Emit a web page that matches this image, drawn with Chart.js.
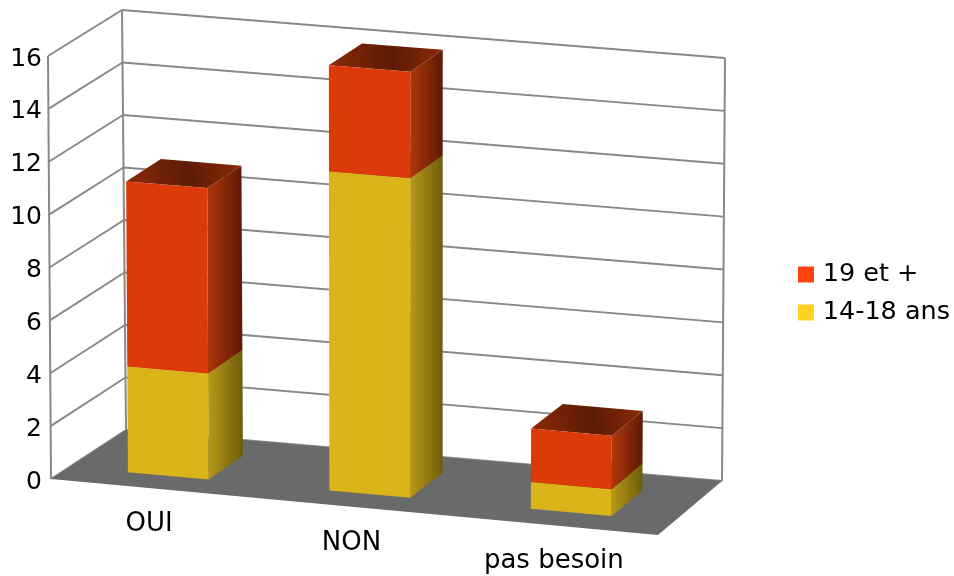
<!DOCTYPE html>
<html>
<head>
<meta charset="utf-8">
<title>Stacked 3D columns</title>
<style>
  html, body { margin: 0; padding: 0; background: #fff; }
  canvas { display: block; }
</style>
<script src="https://cdn.jsdelivr.net/npm/chart.js@4"></script>
</head>
<body>
<canvas id="chart" width="954" height="576"></canvas>
<script>
const categories = ['OUI', 'NON', 'pas besoin'];
const ans14to18 = [4, 12, 1];
const ans19plus = [7, 4, 2];
const yMax = 16;
const yStep = 2;

// corners of the 3D box: [x, y] for front/back, bottom/top, left/right
const box = {
  fbl: [51, 479], fbr: [658, 535], bbl: [126, 430], bbr: [722, 481],
  ftl: [48, 56], ftr: [661, 104], btl: [122, 10], btr: [725, 58],
};
const depthFront = 0.24;
const depthBack = 0.715;
const prismShift = [-1.5, -0.5];

const lerp = (a, b, t) => [a[0] + (b[0] - a[0]) * t, a[1] + (b[1] - a[1]) * t];

// u = along the categories, v = along the values, d = into the picture (all 0..1)
function project(u, v, d) {
  const bottom = lerp(lerp(box.fbl, box.fbr, u), lerp(box.bbl, box.bbr, u), d);
  const top = lerp(lerp(box.ftl, box.ftr, u), lerp(box.btl, box.btr, u), d);
  return lerp(bottom, top, v);
}

function prismPoint(u, v, d) {
  const p = project(u, v, d);
  return [p[0] + prismShift[0], p[1] + prismShift[1]];
}

function fillPoly(ctx, pts, fill) {
  ctx.beginPath();
  pts.forEach((p, i) => (i ? ctx.lineTo(p[0], p[1]) : ctx.moveTo(p[0], p[1])));
  ctx.closePath();
  ctx.fillStyle = fill;
  ctx.fill();
}

function line(ctx, a, b) {
  ctx.beginPath();
  ctx.moveTo(a[0], a[1]);
  ctx.lineTo(b[0], b[1]);
  ctx.stroke();
}

const shades = [
  { front: '#dbb41a', sideA: '#b89a16', sideB: '#6e5c0b', topA: '#8a7410', topB: '#6e5c0b' },
  { front: '#dd3a09', sideA: '#b0360a', sideB: '#5e1b04', topA: '#8a2a08', topB: '#5e1b04' },
];

// one column segment as a prism: right side, top, then the front face
function drawPrism(chart, bar, s) {
  const { ctx } = chart;
  const area = chart.chartArea;
  const b = bar.getProps(['x', 'y', 'base', 'width'], true);
  const u0 = (b.x - b.width / 2 - area.left) / area.width;
  const u1 = (b.x + b.width / 2 - area.left) / area.width;
  const v0 = (area.bottom - b.base) / area.height;
  const v1 = (area.bottom - b.y) / area.height;

  const sideFront = prismPoint(u1, v1, depthFront);
  const sideBack = prismPoint(u1, v1, depthBack);
  const side = ctx.createLinearGradient(sideFront[0], 0, sideBack[0], 0);
  side.addColorStop(0, s.sideA);
  side.addColorStop(1, s.sideB);
  fillPoly(ctx, [prismPoint(u1, v0, depthFront), sideFront, sideBack, prismPoint(u1, v0, depthBack)], side);

  const topLeft = prismPoint(u0, v1, depthFront);
  const top = ctx.createLinearGradient(topLeft[0], topLeft[1], sideBack[0], sideBack[1]);
  top.addColorStop(0, s.topA);
  top.addColorStop(0.55, s.topB);
  top.addColorStop(1, s.topA);
  fillPoly(ctx, [topLeft, sideFront, sideBack, prismPoint(u0, v1, depthBack)], top);

  fillPoly(ctx, [prismPoint(u0, v0, depthFront), prismPoint(u1, v0, depthFront), sideFront, topLeft], s.front);
}

const box3d = {
  id: 'box3d',
  // the legend sits a bit further right and lower than the layout would put it
  afterLayout(chart) {
    const lg = chart.legend;
    const h = lg.bottom - lg.top;
    const w = lg.right - lg.left;
    lg.left = 789.5;
    lg.right = lg.left + w;
    lg.top = 82;
    lg.bottom = lg.top + h;
  },
  // walls, grid lines, floor, then the columns from the bottom of the stack up
  beforeDatasetsDraw(chart) {
    const { ctx, scales } = chart;
    const area = chart.chartArea;
    ctx.save();
    ctx.strokeStyle = '#888888';
    ctx.lineWidth = 2;
    scales.y.ticks.forEach((t) => {
      const v = (area.bottom - scales.y.getPixelForValue(t.value)) / area.height;
      line(ctx, project(0, v, 0), project(0, v, 1));
      line(ctx, project(0, v, 1), project(1, v, 1));
    });
    line(ctx, project(0, 0, 0), project(0, 1, 0));
    line(ctx, project(0, 0, 1), project(0, 1, 1));
    line(ctx, project(1, 0, 1), project(1, 1, 1));
    fillPoly(ctx, [box.fbl, box.fbr, box.bbr, box.bbl], '#6a6a6a');
    chart.data.datasets.forEach((ds, i) => {
      chart.getDatasetMeta(i).data.forEach((bar) => drawPrism(chart, bar, shades[i]));
    });
    ctx.restore();
  },
  // the flat rectangles are not wanted
  beforeDatasetDraw() {
    return false;
  },
  // category labels follow the sloped front edge of the floor
  afterDraw(chart) {
    const { ctx, scales } = chart;
    const area = chart.chartArea;
    ctx.save();
    ctx.font = '26px "DejaVu Sans"';
    ctx.fillStyle = '#000';
    ctx.textAlign = 'center';
    ctx.textBaseline = 'middle';
    chart.data.labels.forEach((label, i) => {
      const u = (scales.x.getPixelForValue(i) - area.left) / area.width;
      const p = project(u, 0, 0);
      ctx.fillText(label, p[0] - 3, p[1] + 36);
    });
    ctx.restore();
  },
};

new Chart(document.getElementById('chart'), {
  type: 'bar',
  data: {
    labels: categories,
    datasets: [
      { label: '14-18 ans', data: ans14to18, backgroundColor: '#ffd320', borderColor: '#ffd320', borderWidth: 8 },
      { label: '19 et +', data: ans19plus, backgroundColor: '#ff420e', borderColor: '#ff420e', borderWidth: 8 },
    ],
  },
  plugins: [box3d],
  options: {
    responsive: false,
    animation: false,
    barPercentage: 0.4,
    categoryPercentage: 1,
    layout: { padding: { top: 59, bottom: 94, left: 0, right: 6 } },
    scales: {
      x: { stacked: true, display: false },
      y: {
        stacked: true,
        min: 0,
        max: yMax,
        grid: { display: false, drawTicks: false },
        border: { display: false },
        afterFit(scale) { scale.width = 46; },
        ticks: {
          stepSize: yStep,
          padding: 4,
          color: '#000',
          font: { family: '"DejaVu Sans"', size: 25 },
        },
      },
    },
    plugins: {
      tooltip: { enabled: false },
      legend: {
        position: 'right',
        reverse: true,
        labels: {
          boxWidth: 8,
          boxHeight: 8,
          padding: 12.5,
          color: '#000',
          font: { family: '"DejaVu Sans"', size: 25.5 },
        },
      },
    },
  },
});
</script>
</body>
</html>
